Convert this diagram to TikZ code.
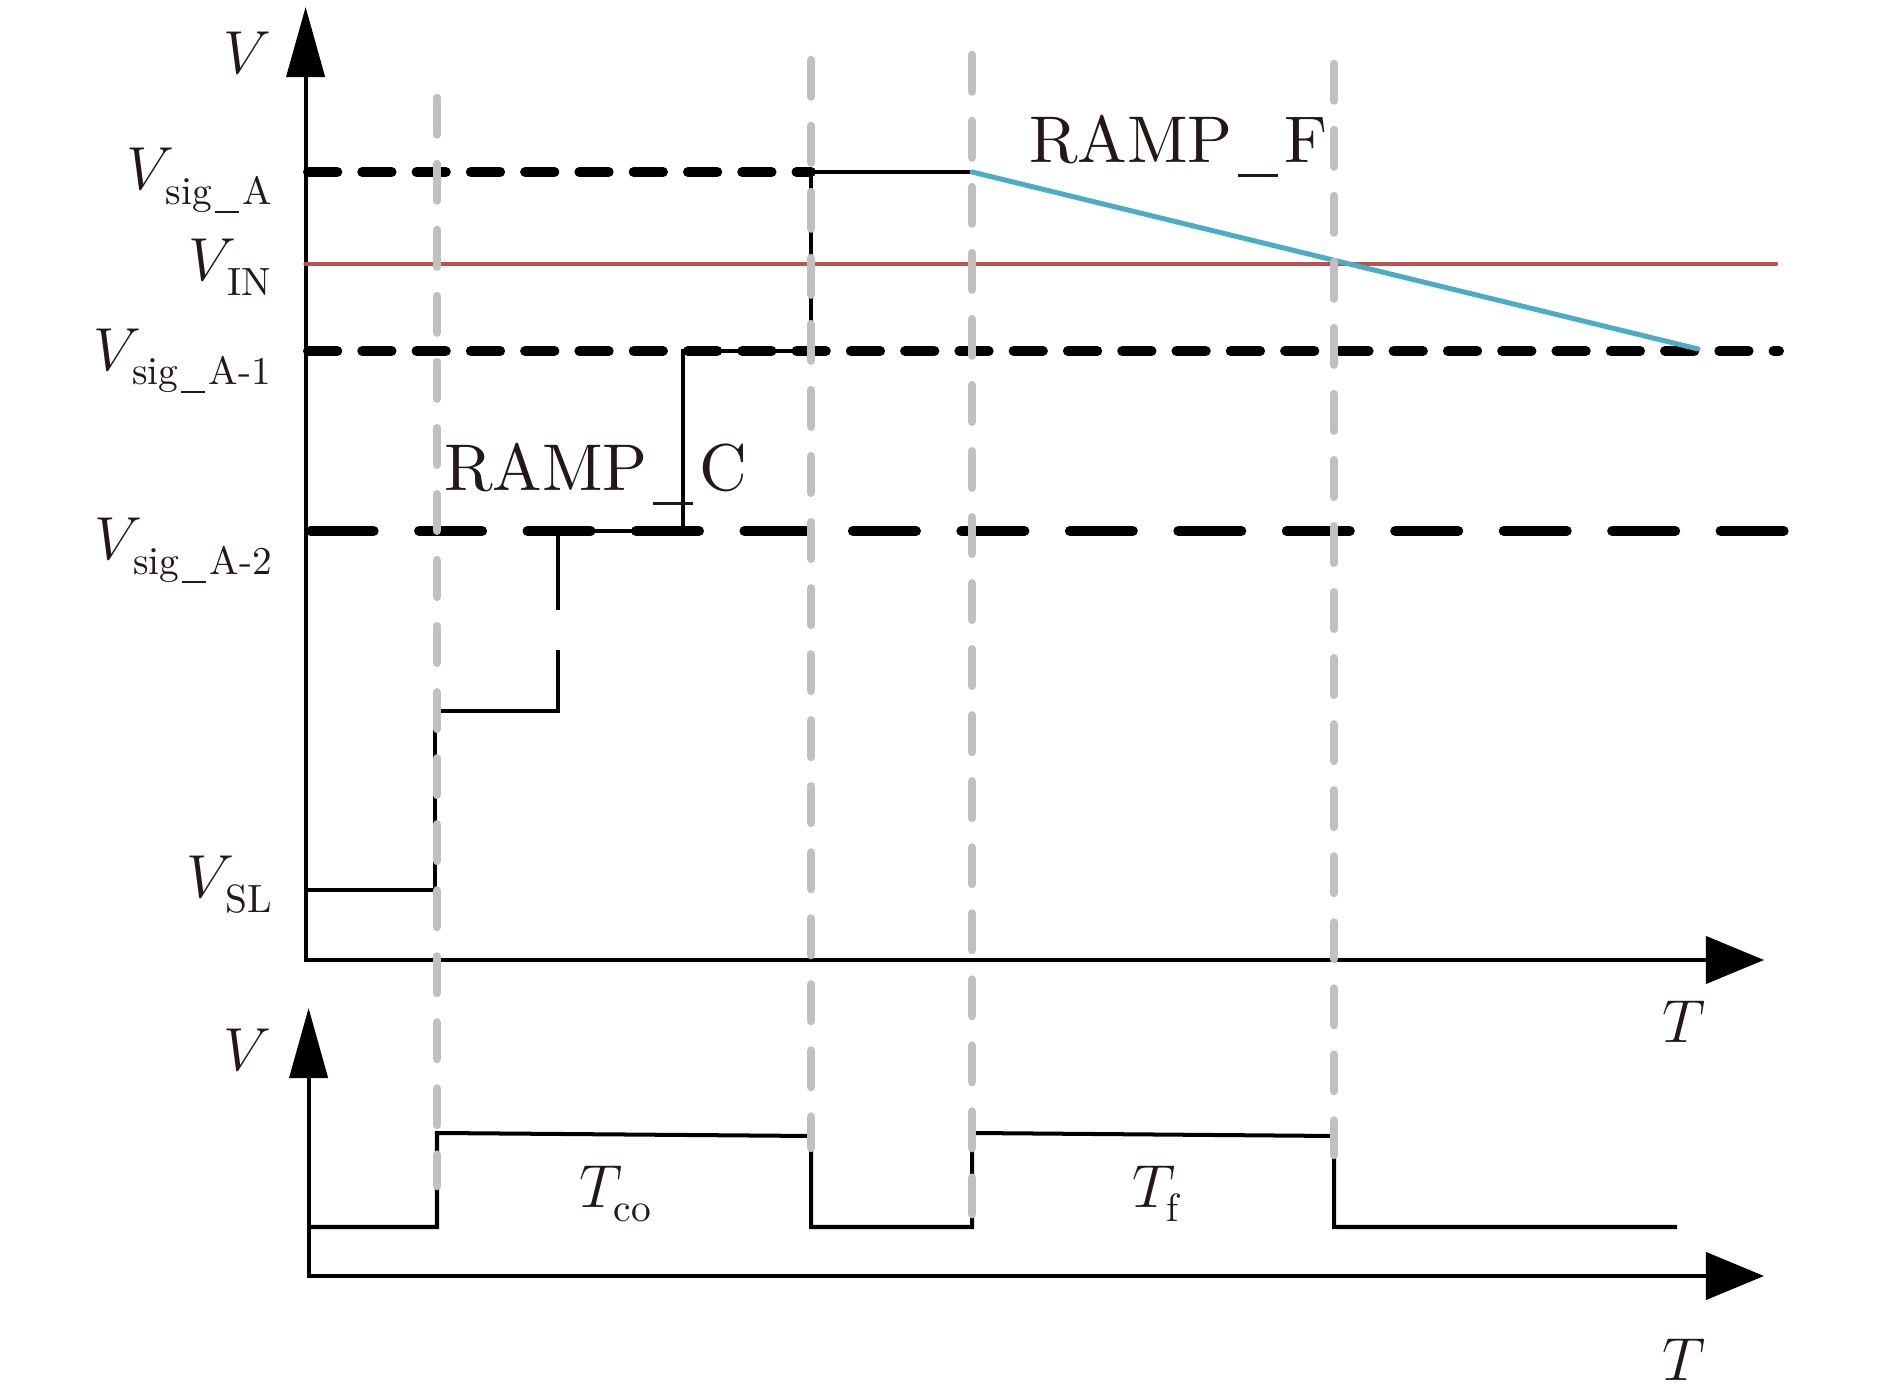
\documentclass[tikz,border=0pt]{standalone}
\usetikzlibrary{arrows.meta}
\definecolor{gridgray}{RGB}{192,192,192}
\definecolor{vinred}{RGB}{192,80,77}
\definecolor{rampcyan}{RGB}{75,172,198}
\definecolor{ink}{RGB}{35,24,21}
\font\lmbig="[lmroman10-regular.otf]" at 18.8pt
\font\lmsub="[lmroman10-regular.otf]" at 11.2pt
\newcommand\us{\kern0.08em\rule[-0.21em]{0.6em}{0.05em}\kern0.1em}
\newcommand\sbx[1]{\raisebox{-1.5pt}{\lmsub #1}}
\newcommand\vsbx[1]{\raisebox{-1.5pt}{\kern1.2pt\lmsub #1}}
\begin{document}
\begin{tikzpicture}[x=0.01cm,y=-0.01cm,
  every node/.style={inner sep=0pt,outer sep=0pt,text=ink,font=\fontsize{18.8pt}{22pt}\selectfont},
  axisline/.style={line width=1.14pt,black},
  sigline/.style={line width=1.14pt,black},
  shortdash/.style={line width=2.85pt,black,line cap=round,dash pattern=on 0.2925cm off 0.25cm},
  longdash/.style={line width=2.85pt,black,line cap=round,dash pattern=on 0.63cm off 0.454cm},
  griddash/.style={line width=2.42pt,gridgray,line cap=round,dash pattern=on 0.365cm off 0.295cm},
  vinline/.style={line width=1.28pt,vinred,line cap=round},
  rampline/.style={line width=1.42pt,rampcyan,line cap=round}]
\useasboundingbox (0,0) rectangle (1890,1389);

% upper axes
\coordinate (o1) at (305.6,960);
\coordinate (v1) at (305.6,7);
\coordinate (h1) at (1764,960);
\draw[axisline,{Triangle[length=0.7cm,width=0.38cm]}-{Triangle[length=0.58cm,width=0.47cm]}] (v1) -- (o1) -- (h1);

% lower axes
\coordinate (o2) at (308.6,1276);
\coordinate (v2) at (308.6,1008);
\coordinate (h2) at (1764,1276);
\draw[axisline,{Triangle[length=0.7cm,width=0.38cm]}-{Triangle[length=0.58cm,width=0.47cm]}] (v2) -- (o2) -- (h2);

% V_IN
\draw[vinline] (305.6,264) -- (1776,264);

% threshold levels
\draw[shortdash] (308,172) -- (811,172);
\draw[shortdash] (308,351) -- (1779,351);
\draw[longdash] (310.6,531) -- (1790,531);

% RAMP_C staircase
\draw[sigline] (305.6,890) -- (435,890) -- (435,711) -- (557.5,711) -- (557.5,650);
\draw[sigline] (557.5,610) -- (557.5,531) -- (683,531) -- (683,351) -- (811,351) -- (811,172) -- (972,172);

% RAMP_F
\draw[rampline] (972,172) -- (1698,349);

% lower pulse
\draw[sigline] (308.6,1227) -- (437,1227) -- (437,1133) -- (811,1136) -- (811,1227)
  -- (972,1227) -- (972,1133) -- (1334,1136) -- (1334,1227) -- (1677,1227);

% gray time markers
\draw[griddash] (437,98) -- (437,1186);
\draw[griddash] (811,60) -- (811,1148);
\draw[griddash] (972,55) -- (972,1216);
\draw[griddash] (1334,64) -- (1334,1155);

% labels
\node[anchor=base east] (vtop) at (271,74) {$V$};
\node[anchor=base east] (vsiga) at (274,190) {$V_{\vsbx{sig\us A}}$};
\node[anchor=base east] (vin) at (273,281) {$V_{\vsbx{IN}}$};
\node[anchor=base east] (vsiga1) at (273,370.5) {$V_{\vsbx{sig\us A-1}}$};
\node[anchor=base east] (vsiga2) at (274,560) {$V_{\vsbx{sig\us A-2}}$};
\node[anchor=base east] (vsl) at (274,898) {$V_{\vsbx{SL}}$};
\node[anchor=base west] (rampc) at (444,491) {\lmbig RAMP\us C};
\node[anchor=base west] (rampf) at (1029,163) {\lmbig RAMP\us F};
\node[anchor=base west] (t1) at (1662,1043) {$T$};
\node[anchor=base west] (t2) at (1662,1381) {$T$};
\node[anchor=base east] (vbot) at (271,1071) {$V$};
\node[anchor=base west] (tco) at (579,1207.5) {$T_{\sbx{co}}$};
\node[anchor=base west] (tf) at (1132,1207.5) {$T_{\sbx{f}}$};
\end{tikzpicture}
\end{document}
